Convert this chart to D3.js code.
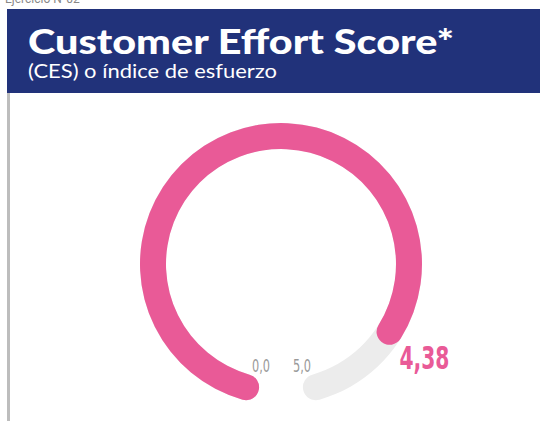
<!DOCTYPE html>
<html>
<head>
<meta charset="utf-8">
<script src="https://cdn.jsdelivr.net/npm/d3@7"></script>
<style>
  body { margin: 0; background: #fff; }
  svg { display: block; }
</style>
</head>
<body>
<svg id="chart" width="540" height="421"></svg>
<script>
// data
const topLabel = "Ejercicio N°02";
const title = "Customer Effort Score*";
const subtitle = "(CES) o índice de esfuerzo";
const scoreMin = 0;
const scoreMax = 5;
const scoreValue = 4.38;
const endLabels = ["0,0", "5,0"];

const svg = d3.select("#chart"),
    width = +svg.attr("width"),
    height = +svg.attr("height");

const pink = "#e95a97",
    track = "#ececec",
    navy = "#21327a";

// header
svg.append("text")
    .attr("x", 5).attr("y", 3)
    .attr("font-family", "Roboto, sans-serif")
    .attr("font-size", 12)
    .attr("fill", "#888")
    .text(topLabel);

svg.append("rect")
    .attr("x", 7).attr("y", 9)
    .attr("width", width - 7).attr("height", 84)
    .attr("fill", navy);

svg.append("rect")
    .attr("x", 7).attr("y", 93)
    .attr("width", 3).attr("height", height - 93)
    .attr("fill", "#bdbdbd");

svg.append("text")
    .attr("x", 28).attr("y", 54)
    .attr("font-family", "Lato, sans-serif")
    .attr("font-weight", 900)
    .attr("font-size", 34)
    .attr("fill", "#fff")
    .attr("textLength", 426).attr("lengthAdjust", "spacingAndGlyphs")
    .text(title);

svg.append("text")
    .attr("x", 28).attr("y", 78)
    .attr("font-family", "Lato, sans-serif")
    .attr("font-size", 19)
    .attr("fill", "#fff")
    .attr("textLength", 249).attr("lengthAdjust", "spacingAndGlyphs")
    .text(subtitle);

// gauge
const cx = 281, cy = 264;
const rOuter = 141, rInner = 115;
const gap = 10 * Math.PI / 180;

const angle = d3.scaleLinear()
    .domain([scoreMin, scoreMax])
    .range([Math.PI + gap, 3 * Math.PI - gap]);

const arc = d3.arc()
    .innerRadius(rInner)
    .outerRadius(rOuter)
    .cornerRadius((rOuter - rInner) / 2);

const g = svg.append("g").attr("transform", `translate(${cx},${cy})`);

g.append("path")
    .attr("d", arc({startAngle: angle(scoreMin), endAngle: angle(scoreMax)}))
    .attr("fill", track);

g.append("path")
    .attr("d", arc({startAngle: angle(scoreMin), endAngle: angle(scoreValue)}))
    .attr("fill", pink);

// end labels 0,0 and 5,0
const labelR = 104;
g.selectAll(".endLabel")
    .data([scoreMin, scoreMax])
    .enter().append("text")
    .attr("class", "endLabel")
    .attr("x", d => Math.sin(angle(d)) * labelR + (d === scoreMin ? -2 : 3))
    .attr("y", d => -Math.cos(angle(d)) * labelR)
    .attr("dy", "0.35em")
    .attr("text-anchor", "middle")
    .attr("font-family", "'DejaVu Sans Condensed', 'Liberation Sans Narrow', sans-serif")
    .attr("font-size", 17)
    .attr("fill", "#9a9a9a")
    .attr("textLength", 18).attr("lengthAdjust", "spacingAndGlyphs")
    .text((d, i) => endLabels[i]);

// value label
const valR = 150;
const va = angle(scoreValue);
g.append("text")
    .attr("x", Math.sin(va) * valR)
    .attr("y", -Math.cos(va) * valR)
    .attr("dy", 13)
    .attr("font-family", "'DejaVu Sans Condensed', 'Liberation Sans Narrow', sans-serif")
    .attr("font-weight", 700)
    .attr("font-size", 32)
    .attr("fill", pink)
    .attr("textLength", 50).attr("lengthAdjust", "spacingAndGlyphs")
    .text(d3.format(".2f")(scoreValue).replace(".", ","));
</script>
</body>
</html>
